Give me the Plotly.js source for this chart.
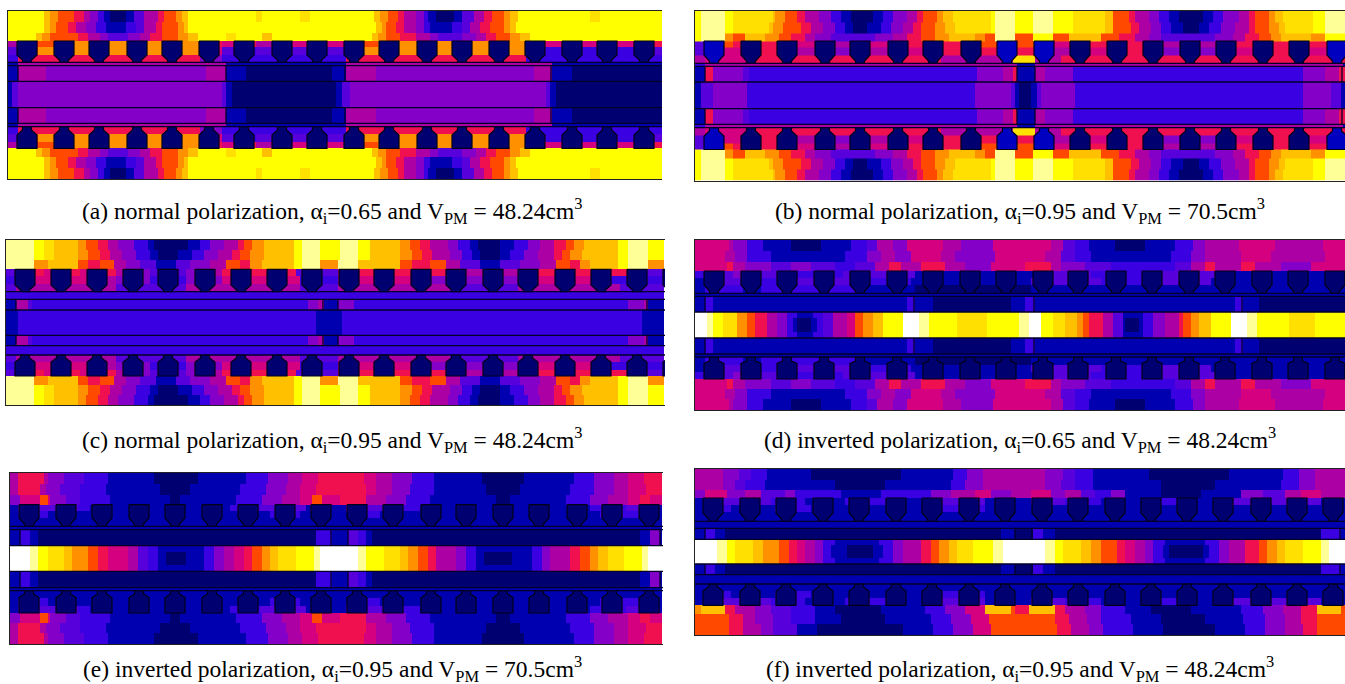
<!DOCTYPE html>
<html><head><meta charset="utf-8">
<script src="https://cdn.plot.ly/plotly-3.0.1.min.js"></script>
<style>html,body{margin:0;padding:0;background:#fff}</style></head>
<body><div id="chart" style="width:1345px;height:684px"></div>
<script>
// Field-level palette: index 0..14 (written as 0-9,a-e in the run strings)
const levelColors = ["#000070","#0000b0","#3a00e2","#5800dc","#8400c8","#ac00a4","#d40080","#f01050","#ff4800","#ff9000","#ffc000","#ffe000","#ffff00","#ffff98","#ffffff"];

// Each row string: runs of <level><end position>, read across the picture
const aY0="c43 a50 958 873 783 590 497 2103 1110 0125 1133 3143 5157 7163 8175 9182 a188 c255 b262 c300 b310 c373 a380 9387 8398 7403 5415 4423 2428 1435 0453 1462 3473 5483 7492 8503 9510 a517 c590 b600 c662";
const aY1="c43 a50 955 868 775 585 495 2105 1125 2135 3143 5155 7162 8177 9183 a188 c375 a381 9386 8396 7403 5415 4424 2430 1452 2462 3470 5480 7490 8504 9510 a516 c662";
const aY2="c36 a42 950 878 788 5100 4108 3128 4140 5150 7162 8178 9188 a198 c225 b235 c262 a272 c372 a378 9385 8400 7415 5430 4437 3462 4475 5485 7495 8510 9520 a530 c662";
const aS1="517 737 854 9199 8205 7222 6234 7255 5272 7292 6307 7327 6344 8378 9525 7545 6562 7582 6597 7617 6634 7662";
const aS2="317 837 9199 6222 3234 2255 3272 2292 3307 2327 3344 9525 3545 2562 3582 2597 3617 2634 3662";
const aS3="217 7199 4222 2345 7525 2662";
const aG="117 5225 1345 5551 1662";
const aM="117 545 4205 5226 1245 0332 1345 5375 4533 5551 1572 0662";
const aC="112 317 4222 3226 1232 0335 1342 3350 4546 3550 1555 0662";
const aEdges=[11,22,33,41,47,55,62.3,65.7,81.3,107.7,123.3,126.7,134,142,148.3,157,168,179];

const bY0="c700 d724 c733 b772 a775 9785 8797 7805 5818 4830 2840 1850 0872 1883 2893 4907 5917 7923 8937 9942 a952 b990 c995 d1015 c1032 d1053 c1072 b1105 a1112 81128 71135 51148 41158 21168 11178 01202 11212 21222 41238 51248 71255 81268 91275 a1282 b1312 c1325 d1345";
const bY1="c700 d724 c733 b768 a773 9783 8800 7810 5822 4835 2845 1853 0867 1880 2890 4902 5912 7920 8934 9945 a955 b990 c995 d1015 c1032 d1053 c1072 b1105 a1112 81130 71138 51150 41160 21170 11182 01198 11208 21220 41235 51248 71255 81268 91278 a1285 b1312 c1325 d1345";
const bY2="c700 d724 9733 8745 a765 9778 8790 7805 5815 4830 3875 4892 5907 7920 8935 9948 a975 9985 8995 d1015 81032 c1053 81068 a1100 81118 71135 51148 41160 31215 41232 51245 71258 81270 91280 a1310 91325 c1345";
const bS1="3704 8733 7795 6830 5868 6905 7980 81045 61070 71143 51216 71327 81345";
const bS2="3704 6760 7795 5830 4868 5905 6942 7980 71045 51070 61110 71143 41216 61253 71290 61345";
const bS3="5704 6750 7940 51012 b1034 51060 71345";
const bG="2705 51017 11035 51342 11345";
const bM="1705 7713 4742 3748 2977 41003 51012 71017 11035 51045 41073 21303 41325 51338 71345";
const bC="1700 3713 4747 2975 41010 31015 11019 01030 11036 31040 41075 21303 41330 31340 11345";
const bEdges=[10.5,22,33,41,47,55,63.3,66.3,82,108.7,124.3,127.7,135,143,149.5,158,169,180.5];

const cY0="d33 c43 b53 a78 985 897 7107 5117 4133 2147 1153 0187 1200 2210 4223 5237 7243 8252 9263 a293 c302 d320 c340 d358 c370 a400 9410 8420 7430 5447 4457 2470 1477 0500 1513 2527 4540 5553 7565 8573 9583 a617 c627 d647 c665";
const cY1="d33 c43 b53 a78 988 8100 7110 5122 4135 2150 1158 0178 1192 2203 4218 5232 7240 8250 9263 a293 c302 d320 c340 d358 c370 a400 9412 8422 7432 5450 4462 2472 1480 0500 1510 2523 4538 5553 7562 8570 9582 a617 c627 d647 c665";
const cY2="d33 948 a78 887 7100 8113 5125 4140 3155 1175 3190 4210 5225 8240 7250 9262 a293 c302 d320 9338 d358 948 a400 8412 7430 8445 5460 3480 1500 3520 4540 5555 8570 7580 9590 a617 c627 d647 9665";
const cS1="315 743 652 779 688 7115 5125 4150 3186 4195 5222 7295 3338 7447 5517 7627 3665";
const cS2="215 643 688 5115 4150 2186 4222 6300 2338 6430 4517 6610 2665";
const cS3="315 5115 3186 5300 3338 5450 3517 5620 3665";
const cG="2665";
const cM="116 527 332 2308 4318 5323 1338 4353 2628 4643 5647 1665";
const cC="118 2315 1342 2642 1665";
const cEdges=[240,250,260,269.3,276,284,291.7,299.3,310,335.3,345.7,355,362,370,376,385,395,405];

const dY0="6728 5733 4747 2763 1790 0820 1850 2867 3877 5893 4907 6943 5960 4993 61050 51062 31075 21088 11115 01145 11175 21192 41205 51238 61275 51322 61345";
const dY1="6725 5735 4747 2770 1845 2867 4880 5895 4910 6940 5955 4995 61045 51060 31075 21090 11170 21190 41205 51240 61270 51325 61345";
const dY2="6727 7733 5745 4770 3790 4810 3835 2855 3875 5888 7900 5920 7945 5965 4990 61025 71050 51060 41085 31110 21175 31190 51205 71215 51240 71255 51280 41310 61345";
const dS1="2704 3733 4742 3778 2842 3915 11034 31090 21150 31215 11345";
const dS2="1710 3750 2790 3860 2910 11030 31100 21150 31210 11345";
const dS3="1705 2742 1760 2860 1915 01030 11345";
const dG="11345";
const dM="1705 2712 1907 2914 1933 01010 11025 21034 11235 21242 11258 01345";
const dCt="e707 d713 c723 b737 9747 8755 7767 5777 4787 2797 1813 2823 3833 5847 6855 8862 9872 a883 c902 e918 d928 c957 b987 c1018 d1028 e1040 c1053 b1065 a1077 91083 81088 71102 51112 31122 11142 21152 41165 51178 71183 81190 91198 a1210 c1230 e1247 d1257 c1288 b1315 c1345";
const dCm="e707 d713 c723 b737 9747 8755 7767 5777 4787 2793 1797 0811 1817 2823 3833 5847 6855 8862 9872 a883 c902 e918 d928 c957 b987 c1018 d1028 e1040 c1053 b1065 a1077 91083 81088 71102 51112 31122 11125 01138 11143 21152 41165 51178 71183 81190 91198 a1210 c1230 e1247 d1257 c1288 b1315 c1345";
const dEdges=[240,251,262,271,278,285,293.3,296.3,312,318,332,338,354,357,365,372,379,389,399,410];

const eY0="518 743 548 463 383 2107 1153 0197 1245 2267 4287 5302 6317 7363 6375 5392 4412 2433 1482 0523 1573 2593 4613 5628 6643 7663";
const eY1="518 740 545 460 380 2105 1160 0190 1240 2265 4285 5300 6315 7365 6375 5392 4410 2433 1485 0520 1570 2593 4613 5628 6645 7663";
const eY2="420 640 848 650 465 380 2110 1170 0180 1235 2262 4282 5300 6312 8322 6340 7365 5385 4405 2430 1495 0510 1565 2590 4608 5628 6640 7650 6663";
const eS1="118 378 290 1230 2260 3305 1345 3383 2420 1590 2625 3640 1663";
const eS2="118 248 1270 2300 1350 2380 1600 2650 1663";
const eS3="1663";
const eG="1663";
const eM="120 230 138 0315 2331 1348 3358 2365 1372 0640 1650 4660 1663";
const eCt="e30 d37 c48 b63 a72 988 898 7107 6127 5137 3147 2157 1193 1203 2213 4223 5233 6243 7252 8262 9270 a278 b295 c313 d320 e357 d365 c383 b400 a408 9417 8427 7435 5455 4465 2475 1532 2542 4550 5570 7580 8589 9597 a607 b623 c642 d648 e663";
const eCm="e30 d37 c48 b63 a72 988 898 7107 6127 5137 3147 2157 1165 0185 1203 2213 4223 5233 6243 7252 8262 9270 a278 b295 c313 d320 e357 d365 c383 b400 a408 9417 8427 7435 5455 4465 2475 1483 0512 1532 2542 4550 5570 7580 8589 9597 a607 b623 c642 d648 e663";
const eEdges=[473,484,495,504.7,511,518,526.3,529.7,545.7,552,565,571.3,587.7,590.7,598,606,613,623,633,644];

const fY0="5723 4738 3750 2767 1810 0900 1953 2967 4983 51045 41062 31075 21092 11148 01228 11282 21298 41315 51345";
const fY1="5722 4735 3745 2765 1835 0885 1950 2965 4982 51045 41060 31075 21092 11160 01215 11280 21298 41315 51345";
const fY2="4705 6727 4745 5760 3785 4795 2840 1880 2930 4950 5975 6990 41010 51030 61050 41065 51080 31095 21110 41125 11160 01200 11240 41262 31285 51300 61320 51345";
const fS1="1703 3730 3770 2805 1845 2890 1925 3955 3985 11030 31065 21100 11140 21195 11225 31255 31290 31320 11345";
const fS2="1705 2730 1775 2810 1925 2985 11345";
const fS3="11345";
const fG="11345";
const fM="1705 2715 1725 01000 11015 01032 21042 11055 01320 21340 11345";
const fCt="e717 d726 c735 b753 a762 9778 8788 7797 6805 5815 4823 2835 1878 2892 4903 5920 7930 8939 9949 a957 b973 c993 d1002 e1045 d1054 c1063 b1080 a1090 91100 81117 71125 61135 51145 41153 21165 11205 21218 41228 51245 71258 81267 91277 a1285 b1302 c1320 d1328 e1345";
const fCm="e717 d726 c735 b753 a762 9778 8788 7797 6805 5815 4823 2830 1847 0872 1882 2892 4903 5920 7930 8939 9949 a957 b973 c993 d1002 e1045 d1054 c1063 b1080 a1090 91100 81117 71125 61135 51145 41153 21162 11168 01202 11208 21218 41228 51245 71258 81267 91277 a1285 b1302 c1320 d1328 e1345";
const fYb2="9700 a725 7735 5755 4770 3790 2815 1835 0880 1925 2945 4965 6985 a1010 81015 71028 a1055 71065 51085 41100 21125 11150 01190 11240 21262 41282 51300 71317 a1340 81345";
const fYb1="8728 7742 5755 4772 3790 2815 1840 0885 1930 2950 4970 6988 81055 71068 51086 41100 21130 11160 01205 11243 21264 41284 51300 71316 81345";
const fYb0="8728 7742 5760 4773 3797 1817 0903 1933 2953 4973 6990 81057 71070 51088 41102 21132 11162 01215 11245 21265 41285 51302 71317 81345";
const fEdges=[469,480,490,498,505,512,521.3,528.3,539.3,545,558,564,574.7,584,591,598,605.3,614,624,635];

const slotsA=[27,64,99,137,172,209,244,282,317,354,389,427,462,499,535,572,607,644];
const slotsB=[714,751,787,825,860,898,933,971,1007,1044,1080,1117,1153,1190,1226,1263,1299,1337];
const slotsC=[25,61,97,133,168,205,241,277,312,349,384,421,456,493,528,565,601,637,673];
const slotsD=[714,751,787,824,860,897,933,970,1006,1043,1078,1116,1152,1189,1225,1262,1298,1335];
const slotsE=[29,66,102,139,175,212,248,285,321,357,393,431,466,503,539,577,612,649];
const slotsF=[713,750,786,823,859,896,932,969,1005,1042,1078,1115,1151,1187,1223,1261,1297,1333];
const slotsBlueB=[714,1007,1044,1337];

const captions=[
 "(a) normal polarization, α<sub>i</sub>=0.65 and V<sub>PM</sub> = 48.24cm<sup>3</sup>",
 "(b) normal polarization, α<sub>i</sub>=0.95 and V<sub>PM</sub> = 70.5cm<sup>3</sup>",
 "(c) normal polarization, α<sub>i</sub>=0.95 and V<sub>PM</sub> = 48.24cm<sup>3</sup>",
 "(d) inverted polarization, α<sub>i</sub>=0.65 and V<sub>PM</sub> = 48.24cm<sup>3</sup>",
 "(e) inverted polarization, α<sub>i</sub>=0.95 and V<sub>PM</sub> = 70.5cm<sup>3</sup>",
 "(f) inverted polarization, α<sub>i</sub>=0.95 and V<sub>PM</sub> = 48.24cm<sup>3</sup>"];
const captionX=[332,1020,332,1020,332,1020];
const captionY=[211,211,440,440,669,669];

const W=1345,H=684;
const panels=[
 {x:[8,662],y:[10.5,179],edges:aEdges,slots:slotsA,blue:[],
  rows:[aY0,aY1,aY2,aS1,aS2,aS3,aG,aM,aC,aM,aG,aS3,aS2,aS1,aY2,aY1,aY0],
  top:[41,55,60,62.3],bot:[126.7,130,135,148.3],lines:[62.3,65.7,81.3,107.7,123.3,126.7],mag:[18,226,345,551]},
 {x:[695,1345],y:[10.5,180.5],edges:bEdges,slots:slotsB,blue:slotsBlueB,
  rows:[bY0,bY1,bY2,bS1,bS2,bS3,bG,bM,bC,bM,bG,bS3,bS2,bS1,bY2,bY1,bY0],
  top:[41,55,61,63.3],bot:[127.7,131,136,149.5],lines:[63.3,66.3,82,108.7,124.3,127.7],mag:[705,1017,1035,1342]},
 {x:[6,665],y:[240,405],edges:cEdges,slots:slotsC,blue:[],
  rows:[cY0,cY1,cY2,cS1,cS2,cS3,cG,cM,cC,cM,cG,cS3,cS2,cS1,cY2,cY1,cY0],
  top:[269.3,285,290,291.7],bot:[355,358,362,376],lines:[291.7,299.3,310,335.3,345.7,355],mag:[16,323,338,647]},
 {x:[695,1345],y:[240,410],edges:dEdges,slots:slotsD,blue:[],
  rows:[dY0,dY1,dY2,dS1,dS2,dS3,dG,dM,dCt,dCm,dCt,dM,dG,dS3,dS2,dS1,dY2,dY1,dY0],
  top:[271,285,291,293.3],bot:[357,361,363.5,379],lines:[293.3,296.3,312,338,354,357],mag:[705,914,1034,1242]},
 {x:[10,663],y:[473,644],edges:eEdges,slots:slotsE,blue:[],
  rows:[eY0,eY1,eY2,eS1,eS2,eS3,eG,eM,eCt,eCm,eCt,eM,eG,eS3,eS2,eS1,eY2,eY1,eY0],
  top:[504.7,518,524,526.3],bot:[590.7,594,597.5,613],lines:[526.3,529.7,545.7,571.3,587.7,590.7],mag:[20,331,348,660]},
 {x:[695,1345],y:[469,635],edges:fEdges,slots:slotsF,blue:[],
  rows:[fY0,fY1,fY2,fS1,fS2,fS3,fG,fM,fCt,fCm,fCt,fM,fG,fS3,fS2,fS1,fYb2,fYb1,fYb0],
  top:[498,513,519,521.3],bot:[584,587,591,605.3],lines:[521.3,528.3,539.3,564,574.7,584],mag:[705,1015,1032,1340]}
];

const hex="0123456789abcde";
function expand(row,x0,x1,step){
  const runs=row.trim().split(/\s+/).map(t=>[hex.indexOf(t[0]),parseFloat(t.slice(1))]);
  const out=[];let r=0;
  for(let x=x0+step/2;x<x1;x+=step){
    while(r<runs.length-1&&x>runs[r][1])r++;
    out.push(runs[r][0]);
  }
  return out;
}
const colorscale=[];
levelColors.forEach((c,i)=>{colorscale.push([i/15,c]);colorscale.push([(i+1)/15,c]);});

const traces=[],layout={width:W,height:H,margin:{l:0,r:0,t:0,b:0},paper_bgcolor:"#fff",plot_bgcolor:"#fff",showlegend:false,annotations:[],hovermode:false};
panels.forEach((p,i)=>{
  const n=i===0?"":String(i+1);
  const xa="x"+n,ya="y"+n;
  const step=2,xe=[];
  for(let x=p.x[0];x<p.x[1]+step/2-1e-6;x+=step)xe.push(x);
  const z=p.rows.map(r=>expand(r,p.x[0],p.x[1],step));
  traces.push({type:"heatmap",xaxis:xa,yaxis:ya,x:xe,y:p.edges,z:z,zmin:0,zmax:15,colorscale:colorscale,showscale:false,hoverinfo:"skip",zsmooth:false});
  const poly=(list)=>{
    const X=[],Y=[];
    list.forEach(c=>{
      const t=p.top;
      [[-10,t[0]],[10,t[0]],[10,t[1]],[4.5,t[2]],[4.5,t[3]],[-4.5,t[3]],[-4.5,t[2]],[-10,t[1]],[-10,t[0]]].forEach(q=>{X.push(c+q[0]);Y.push(q[1]);});
      X.push(null);Y.push(null);
      const b=p.bot;
      [[-4.5,b[0]],[4.5,b[0]],[4.5,b[1]],[10,b[2]],[10,b[3]],[-10,b[3]],[-10,b[2]],[-4.5,b[1]],[-4.5,b[0]]].forEach(q=>{X.push(c+q[0]);Y.push(q[1]);});
      X.push(null);Y.push(null);
    });
    return [X,Y];
  };
  const navy=p.slots.filter(c=>!p.blue.includes(c));
  [[navy,levelColors[0]],[p.blue,"#0000c0"]].forEach(([list,col])=>{
    if(!list.length)return;
    const [X,Y]=poly(list);
    traces.push({type:"scatter",mode:"lines",xaxis:xa,yaxis:ya,x:X,y:Y,fill:"toself",fillcolor:col,line:{color:"#000018",width:1.2},hoverinfo:"skip"});
  });
  const LX=[],LY=[];
  p.lines.forEach(y=>{LX.push(p.x[0],p.x[1],null);LY.push(y,y,null);});
  p.mag.forEach(x=>{[[p.lines[1],p.lines[2]],[p.lines[3],p.lines[4]]].forEach(s=>{LX.push(x,x,null);LY.push(s[0],s[1],null);});});
  traces.push({type:"scatter",mode:"lines",xaxis:xa,yaxis:ya,x:LX,y:LY,line:{color:"#000028",width:1.3},hoverinfo:"skip"});
  const ax={showgrid:false,zeroline:false,showticklabels:false,ticks:"",fixedrange:true};
  layout["xaxis"+n]=Object.assign({},ax,{anchor:ya,domain:[p.x[0]/W,p.x[1]/W],range:p.x,showline:true,mirror:true,linecolor:"#222",linewidth:1});
  layout["yaxis"+n]=Object.assign({},ax,{anchor:xa,domain:[1-p.y[1]/H,1-p.y[0]/H],range:[p.y[1],p.y[0]],showline:true,linecolor:"#222",linewidth:1});
  layout.annotations.push({xref:"paper",yref:"paper",x:captionX[i]/W,y:1-captionY[i]/H,xanchor:"center",yanchor:"middle",showarrow:false,text:captions[i],font:{family:"Liberation Serif, Times New Roman, serif",size:23.5,color:"#000"}});
});
Plotly.newPlot("chart",traces,layout,{displayModeBar:false,staticPlot:true});
</script></body></html>
